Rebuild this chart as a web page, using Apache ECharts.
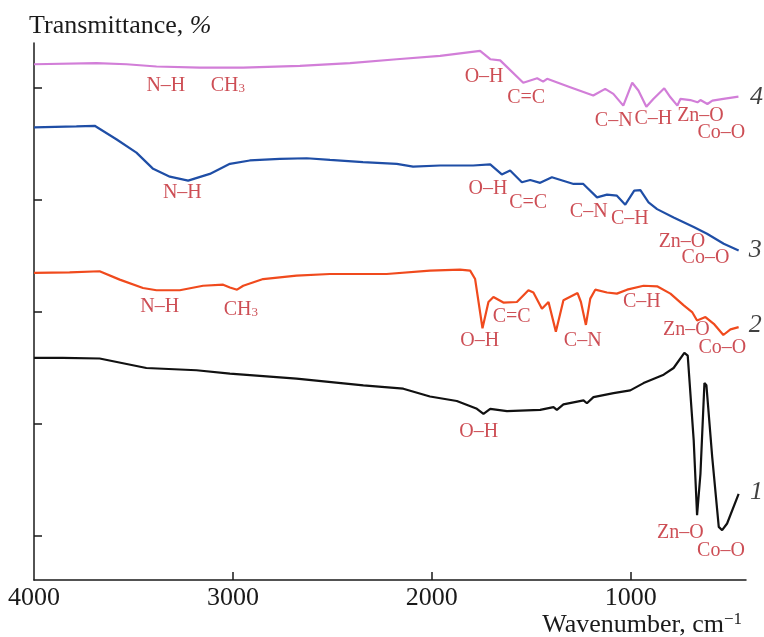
<!DOCTYPE html>
<html>
<head>
<meta charset="utf-8">
<title>IR spectra</title>
<script src="https://cdn.jsdelivr.net/npm/echarts@6/dist/echarts.min.js"></script>
<style>
  * { box-sizing: border-box; margin: 0; padding: 0; }
  html, body { background: #fff; }
  #chart { width: 764px; height: 637px; }
</style>
</head>
<body>
<div id="chart"></div>
<script>
  // spectra, [wavenumber cm-1, transmittance (shifted, arb.)]
  const curve1 = [[4000,51.7],[3856,51.7],[3670,51.6],[3435,49.9],[3183,49.5],[3015,48.9],[2680,48.0],[2344,46.8],[2143,46.2],[2009,44.8],[1874,44.0],[1773,42.6],[1740,41.7],[1706,42.6],[1622,42.2],[1455,42.4],[1388,42.9],[1371,42.4],[1338,43.4],[1237,44.1],[1220,43.6],[1187,44.7],[1086,45.4],[1002,45.9],[935,47.2],[834,48.7],[784,49.9],[730,52.6],[713,52.1],[683,37.0],[666,23.6],[649,31.0],[629,47.2],[619,46.8],[590,34.0],[557,21.5],[540,20.9],[515,22.1],[457,27.4]];
  const curve2 = [[4000,66.9],[3821,67.0],[3670,67.2],[3569,65.7],[3452,64.2],[3384,63.8],[3267,63.8],[3150,64.6],[3049,64.8],[3015,64.3],[2979,63.9],[2948,64.6],[2848,65.8],[2680,66.4],[2512,66.7],[2227,66.7],[2009,67.3],[1858,67.5],[1807,67.3],[1782,65.8],[1745,57.0],[1715,61.7],[1690,62.6],[1640,61.6],[1572,61.7],[1514,63.8],[1489,63.4],[1446,60.5],[1413,61.7],[1376,56.4],[1338,62.0],[1267,63.3],[1250,61.7],[1225,57.6],[1203,62.3],[1178,63.9],[1119,63.4],[1069,63.2],[1018,63.9],[935,64.6],[867,64.5],[800,63.2],[733,61.1],[691,59.9],[666,58.4],[624,59.0],[582,57.8],[534,55.8],[498,56.8],[457,57.2]];
  const curve3 = [[4000,92.9],[3787,93.1],[3695,93.2],[3586,90.8],[3485,88.4],[3401,85.5],[3317,84.1],[3225,83.4],[3116,84.6],[3015,86.4],[2915,87.0],[2764,87.3],[2629,87.4],[2512,87.1],[2346,86.7],[2176,86.4],[2094,85.9],[1958,86.1],[1792,86.1],[1706,86.3],[1648,84.5],[1606,85.2],[1547,83.1],[1505,83.5],[1455,83.0],[1396,84.0],[1287,82.8],[1238,82.8],[1169,80.4],[1119,80.9],[1069,80.7],[1027,79.1],[982,81.6],[951,81.7],[910,79.5],[867,78.3],[784,76.8],[683,75.1],[616,73.9],[532,72.1],[457,70.9]];
  const curve4 = [[4000,104.2],[3686,104.4],[3535,104.2],[3384,103.8],[3166,103.6],[2948,103.6],[2663,103.9],[2411,104.4],[2176,105.1],[1958,105.7],[1757,106.6],[1706,105.1],[1656,104.9],[1540,100.9],[1470,101.7],[1440,101.1],[1420,101.6],[1304,100.1],[1188,98.6],[1128,99.8],[1087,98.9],[1037,96.8],[992,100.9],[961,99.5],[921,96.6],[886,98.0],[831,99.9],[800,98.3],[765,96.8],[750,98.0],[700,97.8],[664,97.4],[649,97.8],[614,97.1],[589,97.7],[534,98.0],[458,98.4]];

  // band assignments: [wavenumber, transmittance, text]
  const bands = [
    [3337,100.4,'N–H'],[3025,100.4,'CH3'],[1737,102.0,'O–H'],[1525,98.2,'C=C'],[1085,94.1,'C–N'],[886,94.4,'C–H'],[649,95.0,'Zn–O'],[544,92.0,'Co–O'],
    [3254,81.3,'N–H'],[1717,81.9,'O–H'],[1515,79.4,'C=C'],[1211,77.8,'C–N'],[1004,76.5,'C–H'],[742,72.4,'Zn–O'],[624,69.6,'Co–O'],
    [3368,60.8,'N–H'],[2960,60.4,'CH3'],[1759,54.8,'O–H'],[1598,59.0,'C=C'],[1241,54.8,'C–N'],[944,61.7,'C–H'],[720,56.7,'Zn–O'],[539,53.5,'Co–O'],
    [1764,38.5,'O–H'],[750,20.4,'Zn–O'],[546,17.2,'Co–O']
  ];
  // curve numbers
  const curveNames = [[367,27.7,'1'],[373,57.5,'2'],[373,70.9,'3'],[367,98.4,'4']];

  const xTicks = [4000, 3000, 2000, 1000];
  const yTicks = [20, 40, 60, 80, 100];

  const serif = "'Liberation Serif', 'Times New Roman', serif";
  const red = '#c0222b';

  const chart = echarts.init(document.getElementById('chart'));

  function line(data, color) {
    return {
      type: 'line',
      data: data,
      showSymbol: false,
      symbol: 'none',
      lineStyle: { color: color, width: 2.2 },
      silent: true
    };
  }

  const option = {
    animation: false,
    backgroundColor: '#fff',
    grid: { left: 34, right: 18, top: 43, bottom: 57 },
    xAxis: {
      type: 'value',
      inverse: true,
      min: 420,
      max: 4000,
      axisLine: { lineStyle: { color: '#1a1a1a', width: 1.5 } },
      axisTick: { inside: true, length: 8, customValues: [3000, 2000, 1000], lineStyle: { color: '#1a1a1a', width: 1.5 } },
      axisLabel: { customValues: xTicks, formatter: v => String(v), fontSize: 26, fontFamily: serif, color: '#1a1a1a', margin: 5 },
      splitLine: { show: false }
    },
    yAxis: {
      type: 'value',
      min: 12,
      max: 108,
      axisLine: { show: true, lineStyle: { color: '#1a1a1a', width: 1.5 } },
      axisTick: { show: true, inside: true, length: 8, customValues: yTicks, lineStyle: { color: '#1a1a1a', width: 1.5 } },
      axisLabel: { show: false },
      splitLine: { show: false }
    },
    graphic: [
      {
        type: 'text', left: 29, top: 13,
        style: {
          text: '{a|Transmittance, }{i|%}',
          rich: {
            a: { fontSize: 26, fontFamily: serif, fill: '#1a1a1a' },
            i: { fontSize: 26, fontFamily: serif, fontStyle: 'italic', fill: '#1a1a1a' }
          }
        }
      },
      {
        type: 'text', right: 22, top: 611,
        style: {
          text: '{a|Wavenumber, cm}{s|−1}',
          rich: {
            a: { fontSize: 26, fontFamily: serif, fill: '#1a1a1a', lineHeight: 28 },
            s: { fontSize: 17, fontFamily: serif, fill: '#1a1a1a', verticalAlign: 'top', lineHeight: 17 }
          }
        }
      }
    ],
    series: [
      line(curve1, '#111111'),
      line(curve2, '#f04a1d'),
      line(curve3, '#1f4ea6'),
      line(curve4, '#d27ed8'),
      {
        type: 'scatter',
        symbolSize: 0,
        clip: false,
        silent: true,
        data: bands.map(b => ({ name: b[2], value: [b[0], b[1]] })),
        label: {
          show: true,
          position: 'inside',
          formatter: p => p.name === 'CH3' ? '{m|CH}{s|3}' : '{m|' + p.name + '}',
          rich: {
            m: { fontSize: 20, fontFamily: serif, color: red, lineHeight: 20 },
            s: { fontSize: 13, fontFamily: serif, color: red, verticalAlign: 'bottom', lineHeight: 13, padding: [4, 0, 0, 0] }
          }
        }
      },
      {
        type: 'scatter',
        symbolSize: 0,
        clip: false,
        silent: true,
        data: curveNames.map(c => ({ name: c[2], value: [c[0], c[1]] })),
        label: {
          show: true,
          position: 'inside',
          formatter: '{b}',
          fontSize: 26,
          fontFamily: serif,
          fontStyle: 'italic',
          color: '#111'
        }
      }
    ]
  };

  chart.setOption(option);
</script>
</body>
</html>
